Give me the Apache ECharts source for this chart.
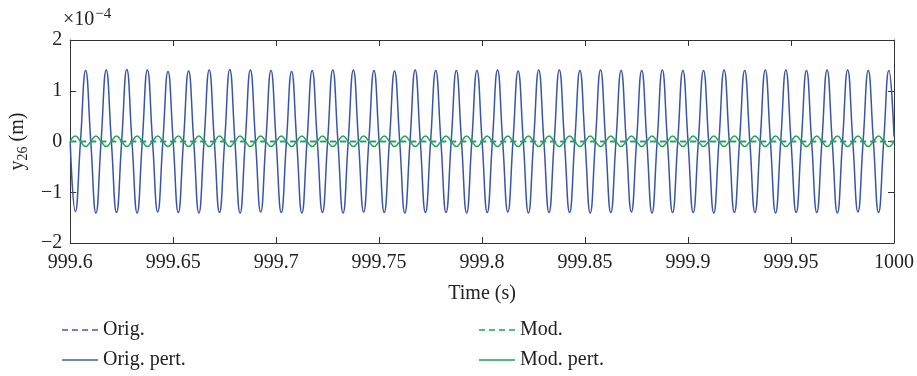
<!DOCTYPE html>
<html><head><meta charset="utf-8">
<script src="https://cdn.jsdelivr.net/npm/echarts@6/dist/echarts.min.js"></script>
<style>html,body{margin:0;padding:0;background:#fff}#c{width:917px;height:376px}</style>
</head><body><div id="c"></div>
<script>
// sample grid (quarter periods)
const T_START = 999.6;
const T_STEP = 0.0025;
// values in units of 1e-4 m
const origPert = [
0,-1.38,0,1.40, 0,-1.41,0,1.41, 0,-1.40,0,1.42, 0,-1.41,0,1.41, 0,-1.39,0,1.38,
0,-1.40,0,1.39, 0,-1.41,0,1.41, 0,-1.40,0,1.42, 0,-1.41,0,1.41, 0,-1.39,0,1.40,
0,-1.40,0,1.38, 0,-1.41,0,1.40, 0,-1.40,0,1.41, 0,-1.41,0,1.41, 0,-1.39,0,1.40,
0,-1.40,0,1.39, 0,-1.41,0,1.41, 0,-1.40,0,1.40, 0,-1.40,0,1.40, 0,-1.41,0,1.40,
0,-1.40,0,1.41, 0,-1.39,0,1.39, 0,-1.41,0,1.41, 0,-1.40,0,1.41, 0,-1.40,0,1.40,
0,-1.41,0,1.41, 0,-1.40,0,1.40, 0,-1.39,0,1.40, 0,-1.41,0,1.41, 0,-1.40,0,1.40,
0,-1.40,0,1.40, 0,-1.41,0,1.41, 0,-1.40,0,1.40, 0,-1.40,0,1.41, 0,-1.41,0,1.41,
0,-1.40,0,1.40, 0,-1.40,0,1.41, 0,-1.41,0,1.41, 0,-1.39,0,1.40, 0,-1.40,0,1.40,
0.1];
const modPert = [
0,0.11,0,-0.10, 0,0.11,0,-0.10, 0,0.11,0,-0.10, 0,0.11,0,-0.10, 0,0.11,0,-0.10,
0,0.11,0,-0.10, 0,0.11,0,-0.10, 0,0.11,0,-0.10, 0,0.11,0,-0.10, 0,0.11,0,-0.10,
0,0.11,0,-0.10, 0,0.11,0,-0.10, 0,0.11,0,-0.10, 0,0.11,0,-0.10, 0,0.11,0,-0.10,
0,0.11,0,-0.10, 0,0.11,0,-0.10, 0,0.11,0,-0.10, 0,0.11,0,-0.10, 0,0.11,0,-0.10,
0,0.11,0,-0.10, 0,0.11,0,-0.10, 0,0.11,0,-0.10, 0,0.11,0,-0.10, 0,0.11,0,-0.10,
0,0.11,0,-0.10, 0,0.11,0,-0.10, 0,0.11,0,-0.10, 0,0.11,0,-0.10, 0,0.11,0,-0.10,
0,0.11,0,-0.10, 0,0.11,0,-0.10, 0,0.11,0,-0.10, 0,0.11,0,-0.10, 0,0.11,0,-0.10,
0,0.11,0,-0.10, 0,0.11,0,-0.10, 0,0.11,0,-0.10, 0,0.11,0,-0.10, 0,0.11,0,-0.10,
0];
const origLevel = [0, 0];
const modLevel = [0, 0];
const xRange = [999.6, 1000];
const yRange = [-2, 2];
const seriesNames = ['Orig.', 'Orig. pert.', 'Mod.', 'Mod. pert.'];

const BLUE = '#3a55a6', GREEN = '#1ea84c';
const BLUE_L = '#7185c6', GREEN_L = '#55bb7c';
const FONT = 'Liberation Serif';
const FS = 20;
const toPairs = arr => arr.map((v, i) => [T_START + i * T_STEP, v]);

const chart = echarts.init(document.getElementById('c'), null, {renderer: 'canvas'});
const axisLineStyle = {color: '#333', width: 1};
const fmtX = v => { const r = Math.round(v * 100) / 100; return String(r); };
const fmtY = v => (v < 0 ? '\u2212' + Math.abs(v) : String(v));

function legendAt(name, left, top, col) {
  return {data: [name], left: left, top: top, itemWidth: 36, itemHeight: 14, itemGap: 0,
    itemStyle: {opacity: 0}, lineStyle: {color: col, width: 2},
    textStyle: {fontFamily: FONT, fontSize: FS, color: '#222', padding: [0,0,0,0]}, selectedMode: false};
}

chart.setOption({
  animation: false,
  backgroundColor: '#fff',
  grid: {left: 63, right: 22, top: 40, bottom: 133},
  legend: [
    legendAt(seriesNames[0], 56, 315, BLUE_L),
    legendAt(seriesNames[1], 56, 345, BLUE_L),
    legendAt(seriesNames[2], 473, 315, GREEN_L),
    legendAt(seriesNames[3], 473, 345, GREEN_L)
  ],
  graphic: [{
    type: 'text', left: 63, top: 7,
    style: {text: '{a|\u00d710}{s|\u22124}', rich: {
      a: {fontFamily: FONT, fontSize: 20, fill: '#222'},
      s: {fontFamily: FONT, fontSize: 15, fill: '#222', padding: [0,0,10,1]}
    }}
  }],
  xAxis: [{
    type: 'value', min: xRange[0], max: xRange[1], interval: 0.05,
    name: 'Time (s)', nameLocation: 'middle', nameGap: 41,
    nameTextStyle: {fontFamily: FONT, fontSize: FS, color: '#222'},
    axisLine: {show: true, onZero: false, lineStyle: axisLineStyle},
    axisTick: {show: true, inside: true, length: 6, lineStyle: axisLineStyle},
    axisLabel: {formatter: fmtX, fontFamily: FONT, fontSize: FS, color: '#222', margin: 10},
    splitLine: {show: false}
  }, {
    type: 'value', position: 'top', min: xRange[0], max: xRange[1], interval: 0.05,
    axisLine: {show: true, onZero: false, lineStyle: axisLineStyle},
    axisTick: {show: true, inside: true, length: 6, lineStyle: axisLineStyle},
    axisLabel: {show: false}, splitLine: {show: false}
  }],
  yAxis: [{
    type: 'value', min: yRange[0], max: yRange[1], interval: 1,
    name: '{a|y}{s|26}{a| (m)}', nameLocation: 'middle', nameGap: 25,
    nameTextStyle: {rich: {
      a: {fontFamily: FONT, fontSize: FS, color: '#222'},
      s: {fontFamily: FONT, fontSize: 14, color: '#222', padding: [10,0,0,0]}
    }},
    axisLine: {show: true, onZero: false, lineStyle: axisLineStyle},
    axisTick: {show: true, inside: true, length: 6, lineStyle: axisLineStyle},
    axisLabel: {formatter: fmtY, fontFamily: FONT, fontSize: FS, color: '#222', margin: 8},
    splitLine: {show: false}
  }, {
    type: 'value', position: 'right', min: yRange[0], max: yRange[1], interval: 1,
    axisLine: {show: true, onZero: false, lineStyle: axisLineStyle},
    axisTick: {show: true, inside: true, length: 6, lineStyle: axisLineStyle},
    axisLabel: {show: false}, splitLine: {show: false}
  }],
  series: [
    {name: seriesNames[0], type: 'line', data: [[xRange[0], origLevel[0]], [xRange[1], origLevel[1]]],
     showSymbol: false, symbol: 'none', color: BLUE_L,
     lineStyle: {color: BLUE, width: 1.5, type: [6, 4]}},
    {name: seriesNames[1], type: 'line', data: toPairs(origPert), smooth: 0.5,
     showSymbol: false, symbol: 'none', color: BLUE_L,
     lineStyle: {color: BLUE, width: 1.5}},
    {name: seriesNames[2], type: 'line', data: [[xRange[0], modLevel[0]], [xRange[1], modLevel[1]]],
     showSymbol: false, symbol: 'none', color: GREEN_L,
     lineStyle: {color: GREEN, width: 1.5, type: [6, 4]}},
    {name: seriesNames[3], type: 'line', data: toPairs(modPert), smooth: 0.5,
     showSymbol: false, symbol: 'none', color: GREEN_L,
     lineStyle: {color: GREEN, width: 1.5}}
  ]
});
</script></body></html>
